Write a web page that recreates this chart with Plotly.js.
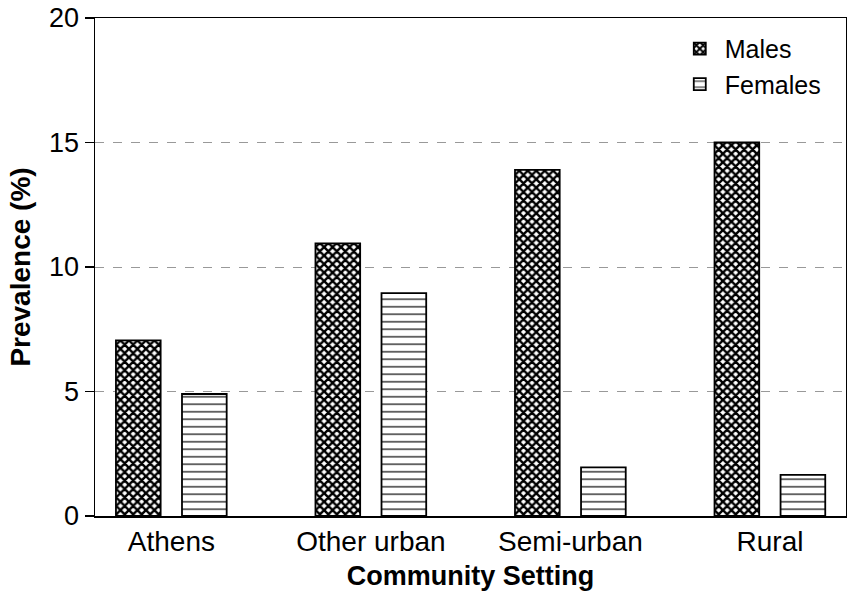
<!DOCTYPE html>
<html><head><meta charset="utf-8">
<script src="https://cdn.plot.ly/plotly-3.0.1.min.js"></script>
<style>html,body{margin:0;padding:0;background:#fff;}</style>
</head><body>
<div id="chart" style="width:847px;height:596px;"></div>
<script>
var categories = ["Athens", "Other urban", "Semi-urban", "Rural"];
var males = [7.05, 10.95, 13.9, 15.0];
var females = [4.9, 8.95, 1.95, 1.65];
var seriesNames = ["Males", "Females"];
var yTicks = [0, 5, 10, 15, 20];

var FONT = "Liberation Sans, Arial, sans-serif";

var traceM = {
  type: "bar", name: seriesNames[0], x: categories, y: males,
  offset: -0.278, width: 0.224,
  marker: {
    color: "#000",
    line: {color: "#000", width: 1.8},
    pattern: {shape: "x", bgcolor: "#fff", fgcolor: "#000", size: 6, solidity: 0.65, fillmode: "replace"}
  }
};
var traceF = {
  type: "bar", name: seriesNames[1], x: categories, y: females,
  offset: 0.053, width: 0.224,
  marker: {
    color: "#fff",
    line: {color: "#000", width: 1.8},
    pattern: {shape: "-", bgcolor: "#fff", fgcolor: "#222", size: 7.5, solidity: 0.18, fillmode: "replace"}
  }
};

var layout = {
  width: 847, height: 596,
  margin: {l: 95, r: 1, t: 18, b: 80},
  paper_bgcolor: "#fff", plot_bgcolor: "#fff",
  barmode: "overlay",
  showlegend: true,
  legend: {
    x: 0.772, y: 0.984, xanchor: "left", yanchor: "top",
    font: {family: FONT, size: 25, color: "#000"},
    bgcolor: "rgba(0,0,0,0)", tracegroupgap: 0, itemwidth: 40
  },
  xaxis: {
    type: "category",
    range: [-0.383, 3.381],
    showgrid: false, zeroline: false,
    showline: true, linecolor: "#000", linewidth: 1.5, mirror: true,
    ticks: "", ticklabelstandoff: 0,
    tickfont: {family: FONT, size: 28, color: "#000"},
    title: {text: "<b>Community Setting</b>", font: {family: FONT, size: 27, color: "#000"}, standoff: 10}
  },
  yaxis: {
    range: [0, 20],
    tickvals: yTicks, ticktext: yTicks.map(String),
    showgrid: true, gridcolor: "#999", griddash: "dash", gridwidth: 1,
    zeroline: false,
    showline: true, linecolor: "#000", linewidth: 1.5, mirror: true,
    ticks: "outside", ticklen: 9, tickcolor: "#000", tickwidth: 1.2,
    tickfont: {family: FONT, size: 27, color: "#000"},
    title: {text: "<b>Prevalence (%)</b>", font: {family: FONT, size: 28, color: "#000"}, standoff: 10}
  }
};

Plotly.newPlot("chart", [traceM, traceF], layout, {displayModeBar: false, staticPlot: true});
</script>
</body></html>
